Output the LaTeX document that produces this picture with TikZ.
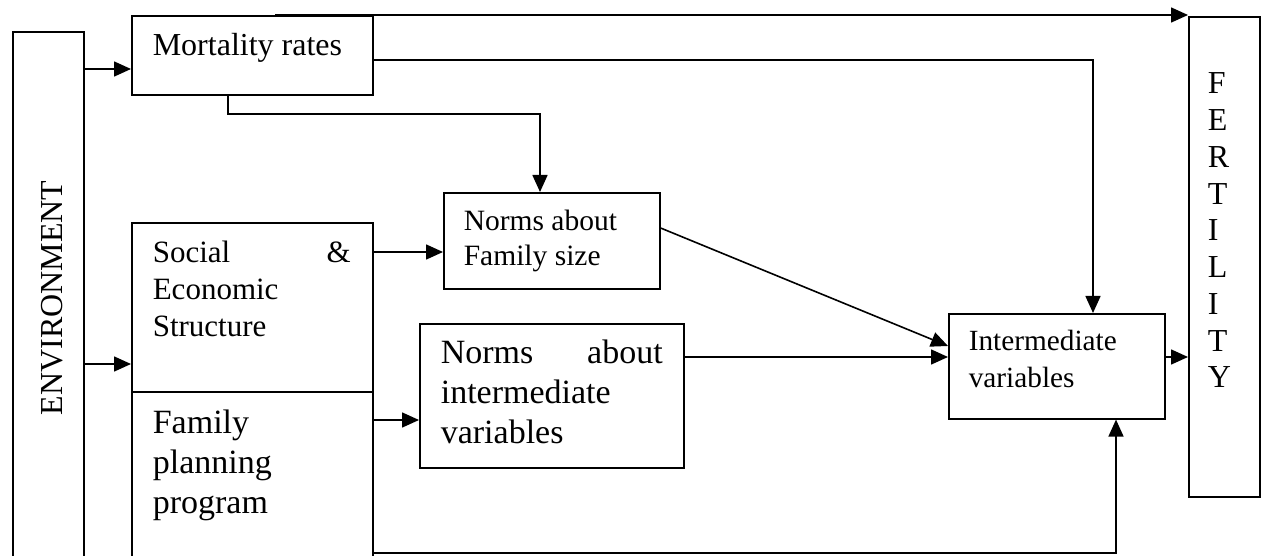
\documentclass[tikz,border=0pt]{standalone}
\usepackage{fontspec}
\setmainfont{Liberation Serif}
\usetikzlibrary{arrows.meta,calc}
\newcommand{\bt}[8]{\begin{minipage}[t][#2][t]{#1}\fontsize{#6}{#7}\selectfont\leftskip=#3\relax\rightskip=#4\relax\parindent=0pt\rule{0pt}{#5}#8\end{minipage}}
\begin{document}
\begin{tikzpicture}[x=1pt,y=-1pt,
  box/.style={draw, line width=1.6pt, inner sep=0pt, anchor=north west},
  arr/.style={line width=1.6pt, -{Triangle[length=17pt,width=15pt]}}]
\useasboundingbox (0,0) rectangle (1267,556);
\clip (0,0) rectangle (1267,556);
\fill[white] (0,0) rectangle (1267,556);
% helper coordinates
\coordinate (y60) at (0,60);
\coordinate (y69) at (0,69);
\coordinate (y114) at (0,114);
\coordinate (y228) at (0,228);
\coordinate (y252) at (0,252);
\coordinate (y346) at (0,346);
\coordinate (y357) at (0,357);
\coordinate (y364) at (0,364);
\coordinate (y420) at (0,420);
\coordinate (y553) at (0,553);
\coordinate (x228) at (228,0);
\coordinate (x275) at (275,0);
\coordinate (x540) at (540,0);
\coordinate (x1093) at (1093,0);
\coordinate (x1116) at (1116,0);
% nodes
\node[box, minimum width=71pt, minimum height=532pt] (env) at (12,31)
  {\hspace*{8pt}\rotatebox{90}{\fontsize{32}{38}\selectfont ENVIRONMENT}};
\node[box] (mort) at (131,15) {\bt{241pt}{79pt}{21pt}{0pt}{40pt}{32}{37}{Mortality rates}};
\node[box] (soc) at (131,222) {\bt{241pt}{169pt}{21pt}{22pt}{40pt}{31}{37}{Social\hfill\&\\Economic\\Structure}};
\node[box] (fp) at (131,391) {\bt{241pt}{172pt}{21pt}{0pt}{42pt}{34}{40}{Family\\planning\\program}};
\node[box] (nfam) at (443,192) {\bt{216pt}{96pt}{20pt}{0pt}{38pt}{29.5}{35}{Norms about\\Family size}};
\node[box] (nint) at (419,323) {\bt{264pt}{144pt}{21pt}{21pt}{40pt}{34}{40}{Norms\hfill about\\intermediate\\variables}};
\node[box] (int) at (948,313) {\bt{216pt}{105pt}{20pt}{0pt}{37pt}{29.3}{36.7}{Intermediate\\variables}};
\node[box] (fert) at (1188,16) {\bt{71pt}{480pt}{19pt}{0pt}{77pt}{32}{36.75}{F\\E\\R\\T\\I\\L\\I\\T\\Y}};
% connectors
\draw[arr] (env.east |- y69) -- (mort.west |- y69);
\draw[arr] (env.east |- y364) -- (soc.west |- y364);
\draw[arr] (mort.north -| x275) -- (fert.west |- mort.north);
\draw[arr] (mort.east |- y60) -| (x1093 |- int.north);
\draw[arr] (x228 |- mort.south) |- (x540 |- y114) -- (x540 |- nfam.north);
\draw[arr] (soc.east |- y252) -- (nfam.west |- y252);
\draw[arr] (fp.east |- y420) -- (nint.west |- y420);
\draw[arr] (nfam.east |- y228) -- (int.west |- y346);
\draw[arr] (nint.east |- y357) -- (int.west |- y357);
\draw[arr] (int.east |- y357) -- (fert.west |- y357);
\draw[arr] (fp.east |- y553) -| (x1116 |- int.south);
\end{tikzpicture}
\end{document}
